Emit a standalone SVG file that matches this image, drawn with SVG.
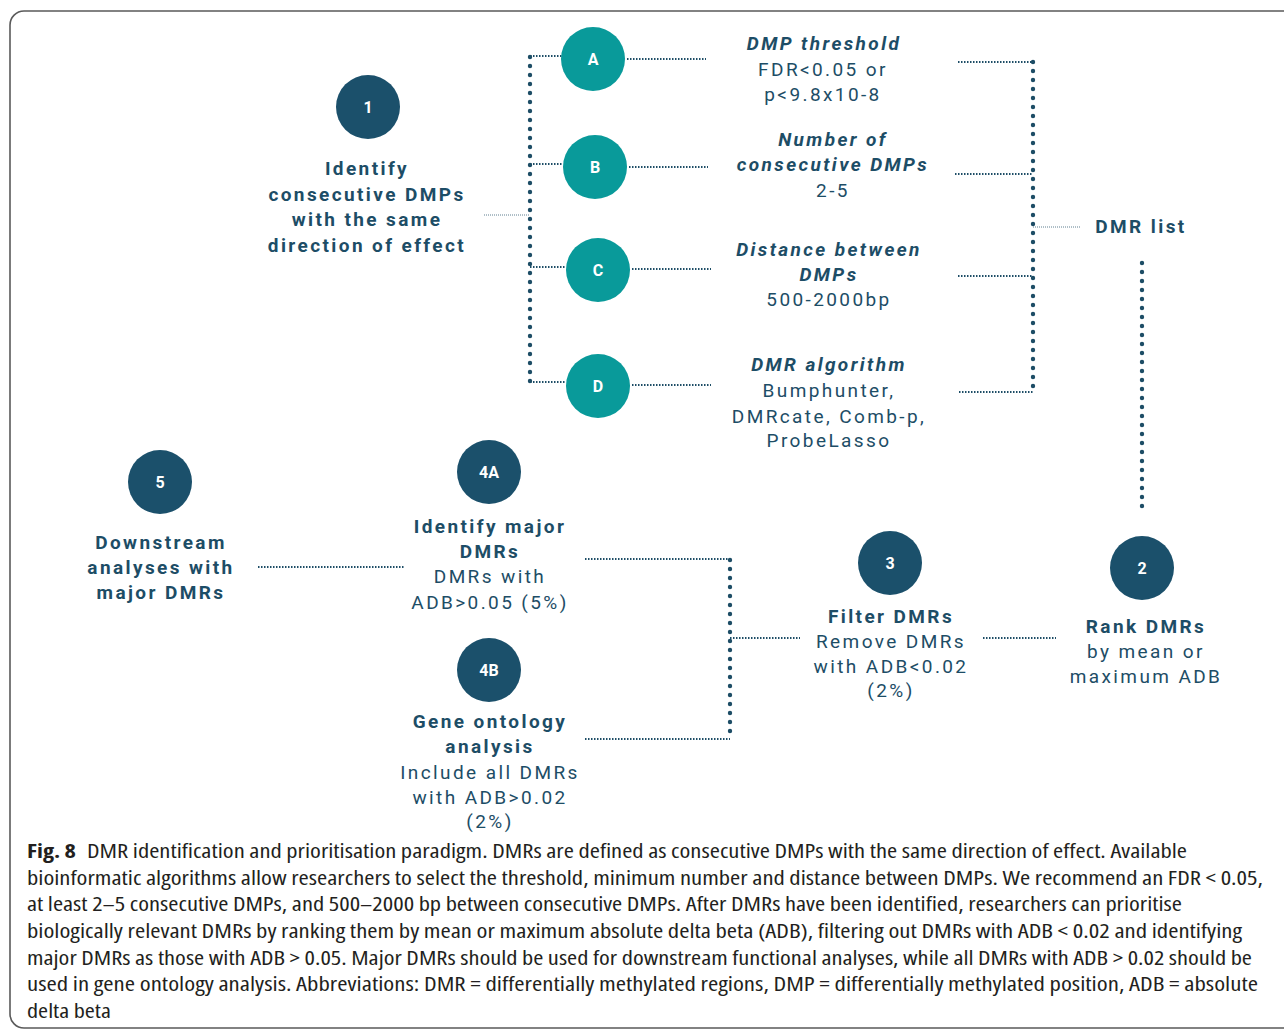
<svg xmlns="http://www.w3.org/2000/svg" width="1284" height="1029" viewBox="0 0 1284 1029">
<style>
.frame{fill:#fff;stroke:#5a5a5a;stroke-width:1.6}
.nav{fill:#1b506b}
.teal{fill:#099a9a}
.cl{font-family:Roboto,"Liberation Sans",sans-serif;font-weight:700;font-size:16px;fill:#fff;text-anchor:middle}
.t{font-family:Roboto,"Liberation Sans",sans-serif;font-size:19px;fill:#1d4d66;text-anchor:middle;letter-spacing:2.4px}
.b{font-weight:700}
.bi{font-weight:700;font-style:italic}
.dot{fill:none;stroke:#1d4d66;stroke-width:2;stroke-dasharray:1.5 1.5}
.thin{fill:none;stroke:#5f7f90;stroke-width:1;stroke-dasharray:1 1}
.vd{fill:none;stroke:#1d4d66;stroke-width:4.4;stroke-linecap:round;stroke-dasharray:0 9}
.cap{font-family:"Open Sans","Liberation Sans",sans-serif;font-size:19px;font-stretch:75%;fill:#231f20}
</style>
<rect class="frame" x="10" y="11" width="1300" height="1017" rx="14"/>
<g id="connectors">
<path class="vd" d="M530 57 V382"/>
<path class="dot" d="M530 56 H562 M530 164 H563 M530 267 H566 M530 382 H566"/>
<path class="thin" d="M484 215 H530"/>
<path class="dot" d="M627 59 H706 M629 167 H708 M632 269 H711 M632 385 H711"/>
<path class="vd" d="M1033 62 V392"/>
<path class="dot" d="M958 62 H1033 M955 174 H1033 M958 276 H1033 M959 392 H1033"/>
<path class="thin" d="M1033 227 H1081"/>
<path class="vd" d="M1142 263 V515"/>
<path class="dot" d="M983 638 H1056"/>
<path class="vd" d="M730 560 V739"/>
<path class="dot" d="M585 559 H730 M585 739 H730"/>
<path class="dot" d="M730 638 H800"/>
<path class="dot" d="M258 567 H405"/>
</g>
<g id="n1">
<circle class="nav" cx="368" cy="107" r="32"/>
<text class="cl" x="368" y="113">1</text>
<text class="t b" x="367" y="175">Identify</text>
<text class="t b" x="367" y="201">consecutive DMPs</text>
<text class="t b" x="367" y="226">with the same</text>
<text class="t b" x="367" y="252">direction of effect</text>
</g>
<g id="nA">
<circle class="teal" cx="593" cy="59" r="32"/>
<text class="cl" x="593" y="65">A</text>
<text class="t bi" x="824" y="50">DMP threshold</text>
<text class="t" x="823" y="76">FDR&lt;0.05 or</text>
<text class="t" x="823" y="101">p&lt;9.8x10-8</text>
</g>
<g id="nB">
<circle class="teal" cx="595" cy="167" r="32"/>
<text class="cl" x="595" y="173">B</text>
<text class="t bi" x="833" y="146">Number of</text>
<text class="t bi" x="833" y="171">consecutive DMPs</text>
<text class="t" x="833" y="197">2-5</text>
</g>
<g id="nC">
<circle class="teal" cx="598" cy="270" r="32"/>
<text class="cl" x="598" y="276">C</text>
<text class="t bi" x="829" y="256">Distance between</text>
<text class="t bi" x="829" y="281">DMPs</text>
<text class="t" x="829" y="306">500-2000bp</text>
</g>
<g id="nD">
<circle class="teal" cx="598" cy="386" r="32"/>
<text class="cl" x="598" y="392">D</text>
<text class="t bi" x="829" y="371">DMR algorithm</text>
<text class="t" x="829" y="397">Bumphunter,</text>
<text class="t" x="829" y="423">DMRcate, Comb-p,</text>
<text class="t" x="829" y="447">ProbeLasso</text>
</g>
<g id="dmrlist">
<text class="t b" x="1141" y="233">DMR list</text>
</g>
<g id="n2">
<circle class="nav" cx="1142" cy="568" r="32"/>
<text class="cl" x="1142" y="574">2</text>
<text class="t b" x="1146" y="633">Rank DMRs</text>
<text class="t" x="1146" y="658">by mean or</text>
<text class="t" x="1146" y="683">maximum ADB</text>
</g>
<g id="n3">
<circle class="nav" cx="890" cy="563" r="32"/>
<text class="cl" x="890" y="569">3</text>
<text class="t b" x="891" y="623">Filter DMRs</text>
<text class="t" x="891" y="648">Remove DMRs</text>
<text class="t" x="891" y="673">with ADB&lt;0.02</text>
<text class="t" x="891" y="697">(2%)</text>
</g>
<g id="n4A">
<circle class="nav" cx="489" cy="472" r="32"/>
<text class="cl" x="489" y="478">4A</text>
<text class="t b" x="490" y="533">Identify major</text>
<text class="t b" x="490" y="558">DMRs</text>
<text class="t" x="490" y="583">DMRs with</text>
<text class="t" x="490" y="609">ADB&gt;0.05 (5%)</text>
</g>
<g id="n4B">
<circle class="nav" cx="489" cy="670" r="32"/>
<text class="cl" x="489" y="676">4B</text>
<text class="t b" x="490" y="728">Gene ontology</text>
<text class="t b" x="490" y="753">analysis</text>
<text class="t" x="490" y="779">Include all DMRs</text>
<text class="t" x="490" y="804">with ADB&gt;0.02</text>
<text class="t" x="490" y="828">(2%)</text>
</g>
<g id="n5">
<circle class="nav" cx="160" cy="482" r="32"/>
<text class="cl" x="160" y="488">5</text>
<text class="t b" x="161" y="549">Downstream</text>
<text class="t b" x="161" y="574">analyses with</text>
<text class="t b" x="161" y="599">major DMRs</text>
</g>
<g id="caption">
<text class="cap" x="27" y="858" font-weight="700" textLength="49" lengthAdjust="spacingAndGlyphs">Fig. 8</text>
<text class="cap" x="87" y="858" textLength="1100" lengthAdjust="spacingAndGlyphs">DMR identification and prioritisation paradigm. DMRs are defined as consecutive DMPs with the same direction of effect. Available</text>
<text class="cap" x="27" y="885" textLength="1236" lengthAdjust="spacingAndGlyphs">bioinformatic algorithms allow researchers to select the threshold, minimum number and distance between DMPs. We recommend an FDR &lt; 0.05,</text>
<text class="cap" x="27" y="911" textLength="1155" lengthAdjust="spacingAndGlyphs">at least 2–5 consecutive DMPs, and 500–2000 bp between consecutive DMPs. After DMRs have been identified, researchers can prioritise</text>
<text class="cap" x="27" y="938" textLength="1215" lengthAdjust="spacingAndGlyphs">biologically relevant DMRs by ranking them by mean or maximum absolute delta beta (ADB), filtering out DMRs with ADB &lt; 0.02 and identifying</text>
<text class="cap" x="27" y="965" textLength="1225" lengthAdjust="spacingAndGlyphs">major DMRs as those with ADB &gt; 0.05. Major DMRs should be used for downstream functional analyses, while all DMRs with ADB &gt; 0.02 should be</text>
<text class="cap" x="27" y="991" textLength="1231" lengthAdjust="spacingAndGlyphs">used in gene ontology analysis. Abbreviations: DMR = differentially methylated regions, DMP = differentially methylated position, ADB = absolute</text>
<text class="cap" x="27" y="1018" textLength="84" lengthAdjust="spacingAndGlyphs">delta beta</text>
</g>
</svg>
